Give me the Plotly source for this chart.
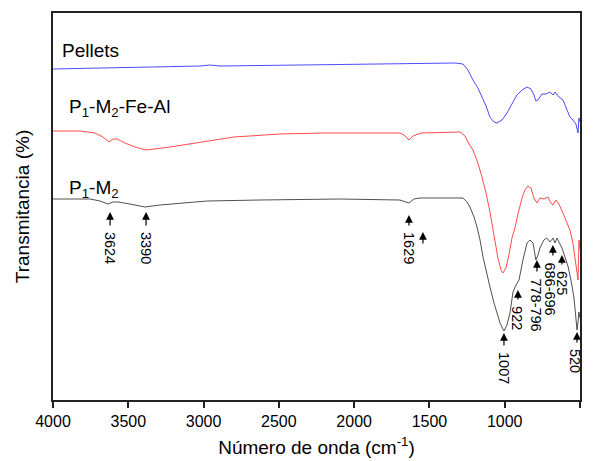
import plotly.graph_objects as go

# ---- data ----
pellets_wn = [4000, 3688, 3356, 3024, 2957, 2891, 2360, 1696, 1330, 1277, 1244, 1211, 1178, 1151, 1124,
              1098, 1071, 1051, 1018, 985, 952, 919, 885, 852, 826, 806, 793, 779, 753, 726, 699, 679,
              666, 640, 613, 587, 567, 547, 527, 513, 507, 500]
pellets_t = [331, 332, 333, 334, 335, 334, 335, 336, 337, 336, 330, 320, 312, 303, 294,
             283, 278, 277, 280, 287, 296, 305, 310, 313, 311, 305, 299, 300, 306, 306, 308, 305,
             308, 303, 300, 290, 283, 280, 276, 267, 282, 278]

feal_wn = [4000, 3821, 3721, 3668, 3628, 3602, 3575, 3522, 3455, 3382, 3223, 3024, 2798, 2492, 2214,
           1696, 1669, 1636, 1609, 1556, 1297, 1264, 1237, 1211, 1178, 1151, 1124, 1098, 1071, 1045,
           1025, 1012, 992, 972, 952, 932, 912, 885, 866, 846, 826, 806, 786, 766, 740, 713, 693,
           679, 660, 640, 613, 587, 567, 547, 534, 520, 513, 507, 500]
feal_t = [269, 269, 267, 263, 258, 261, 261, 257, 253, 250, 253, 258, 263, 266, 267,
          267, 265, 260, 264, 267, 268, 264, 256, 250, 237, 223, 207, 188, 165, 142,
          130, 127, 132, 145, 162, 172, 186, 202, 210, 214, 212, 202, 197, 202, 201, 203, 197,
          195, 200, 196, 187, 178, 170, 157, 143, 125, 120, 160, 150]

p1m2_wn = [4000, 3754, 3688, 3635, 3602, 3568, 3489, 3389, 3289, 2977, 2625, 2094, 1696, 1662, 1636,
           1603, 1563, 1277, 1250, 1231, 1204, 1184, 1164, 1144, 1118, 1098, 1071, 1051, 1031, 1005,
           985, 965, 945, 925, 905, 879, 852, 832, 812, 793, 779, 766, 740, 720, 699, 679, 666,
           653, 633, 620, 600, 580, 560, 540, 527, 520, 513, 507, 500]
p1m2_t = [201, 201, 199, 196, 198, 198, 196, 193, 195, 199, 200, 201, 200, 198, 197,
          201, 202, 202, 198, 193, 183, 173, 160, 143, 125, 113, 97, 87, 77, 69,
          75, 87, 108, 115, 120, 140, 157, 160, 157, 140, 145, 152, 160, 162, 158, 162, 157,
          162, 156, 152, 143, 134, 120, 102, 82, 70, 78, 88, 82]

series_names = ["Pellets", "P<sub>1</sub>-M<sub>2</sub>-Fe-Al", "P<sub>1</sub>-M<sub>2</sub>"]
series_label_wn = [3955, 3905, 3905]
series_label_t = [350, 292, 211]

peak_labels = ["3624", "3390", "1629", "", "1007", "922", "778-796", "686-696", "625", "520"]
peak_wn = [3621, 3382, 1636, 1543, 1005, 912, 786, 680, 620, 520]
peak_text_wn = [3621, 3382, 1636, 1543, 1005, 919, 792, 699, 620, 533]
peak_head_t = [188, 188, 185, 168, 67, 110, 140, 155, 145, 68]
peak_tail_t = [173, 173, 173, 155, 53, 99, 127, 143, 134, 56]

x_ticks = [4000, 3500, 3000, 2500, 2000, 1500, 1000, 500]

FONT = "Liberation Sans, Arial, sans-serif"

fig = go.Figure()
fig.add_trace(go.Scatter(x=pellets_wn, y=pellets_t, mode="lines",
                         line=dict(color="#4b4bff", width=1)))
fig.add_trace(go.Scatter(x=feal_wn, y=feal_t, mode="lines",
                         line=dict(color="#ff4b4b", width=1)))
fig.add_trace(go.Scatter(x=p1m2_wn, y=p1m2_t, mode="lines",
                         line=dict(color="#505050", width=1)))

annotations = []
for name, wx, wy in zip(series_names, series_label_wn, series_label_t):
    annotations.append(dict(x=wx, y=wy, xref="x", yref="y", text=name, showarrow=False,
                            xanchor="left", yanchor="middle",
                            font=dict(family=FONT, size=19, color="black")))
for lab, wx, tx, hy, ty in zip(peak_labels, peak_wn, peak_text_wn, peak_head_t, peak_tail_t):
    annotations.append(dict(x=wx, y=hy, ax=wx, ay=ty, xref="x", yref="y", axref="x", ayref="y",
                            text="", showarrow=True, arrowhead=2, arrowsize=1.3, arrowwidth=1.2,
                            arrowcolor="black", standoff=0, startstandoff=0))
    if lab:
        annotations.append(dict(x=tx, y=ty - 3, xref="x", yref="y", text=lab, showarrow=False,
                                textangle=90, xanchor="center", yanchor="top",
                                font=dict(family=FONT, size=14.5, color="black")))

fig.update_layout(
    width=593, height=461,
    margin=dict(l=53, r=13, t=13, b=61),
    paper_bgcolor="white", plot_bgcolor="white",
    showlegend=False,
    annotations=annotations,
    xaxis=dict(range=[4000, 500], tickvals=x_ticks, ticktext=[str(v) for v in x_ticks],
               automargin=False,
               ticks="outside", ticklen=6, tickwidth=1.5, tickcolor="#222",
               showline=True, linecolor="#222", linewidth=2, mirror=True,
               showgrid=False, zeroline=False,
               tickfont=dict(family=FONT, size=16, color="black"),
               title=dict(text="Número de onda (cm<sup>-1</sup>)", standoff=11,
                          font=dict(family=FONT, size=19, color="black"))),
    yaxis=dict(range=[0, 387], showticklabels=False, ticks="", automargin=False,
               showline=True, linecolor="#222", linewidth=2, mirror=True,
               showgrid=False, zeroline=False,
               title=dict(text="Transmitancia (%)", standoff=16,
                          font=dict(family=FONT, size=19, color="black"))),
)

fig.write_html("out.html", config={"displayModeBar": False},
               post_script="document.body.style.margin='0';document.body.style.padding='0';")
